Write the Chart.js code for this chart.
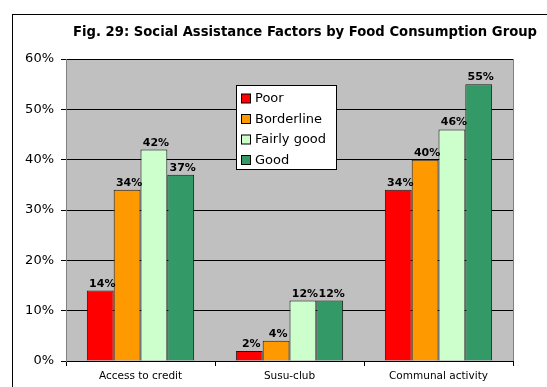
<!DOCTYPE html>
<html>
<head>
<meta charset="utf-8">
<script src="https://cdn.jsdelivr.net/npm/chart.js@4/dist/chart.umd.min.js"></script>
<style>
  html, body { margin: 0; padding: 0; background: #fff; overflow: hidden; }
  #wrap { position: relative; width: 547px; height: 387px; }
</style>
</head>
<body>
<div id="wrap"><canvas id="chart" width="547" height="387"></canvas></div>
<script>
const title = 'Fig. 29: Social Assistance Factors by Food Consumption Group';
const categories = ['Access to credit', 'Susu-club', 'Communal activity'];
const groups = ['Poor', 'Borderline', 'Fairly good', 'Good'];
const poor = [14, 2, 34];
const borderline = [34, 4, 40];
const fairlyGood = [42, 12, 46];
const good = [37, 12, 55];
const yTicks = [0, 10, 20, 30, 40, 50, 60];
const colors = ['#ff0000', '#ff9900', '#ccffcc', '#339966'];

const font = '"DejaVu Sans", Verdana, sans-serif';

// gray plot area, outer frame and the title
const frame = {
  id: 'frame',
  beforeDraw(chart) {
    const { ctx, chartArea: a } = chart;
    ctx.save();
    ctx.fillStyle = '#fff';
    ctx.fillRect(0, 0, chart.width, chart.height);
    ctx.fillStyle = '#c0c0c0';
    ctx.fillRect(a.left, a.top, a.right - a.left, a.bottom - a.top);
    ctx.restore();
  },
  afterDraw(chart) {
    const { ctx, chartArea: a } = chart;
    ctx.save();
    ctx.strokeStyle = '#808080';
    ctx.lineWidth = 1;
    ctx.beginPath();
    ctx.moveTo(a.right + 0.5, a.top);
    ctx.lineTo(a.right + 0.5, a.bottom);
    ctx.stroke();
    ctx.strokeStyle = '#000';
    ctx.strokeRect(12.5, 14.5, 700, 500);
    ctx.fillStyle = '#000';
    ctx.font = 'bold 13.2px ' + font;
    ctx.textAlign = 'center';
    ctx.textBaseline = 'middle';
    ctx.fillText(title, 305, 33);
    ctx.restore();
  }
};

// value labels over each bar
const barLabels = {
  id: 'barLabels',
  afterDatasetsDraw(chart) {
    const { ctx } = chart;
    ctx.save();
    ctx.font = 'bold 11px ' + font;
    ctx.fillStyle = '#000';
    ctx.textAlign = 'center';
    ctx.textBaseline = 'alphabetic';
    chart.data.datasets.forEach((ds, i) => {
      chart.getDatasetMeta(i).data.forEach((bar, j) => {
        ctx.fillText(ds.data[j] + '%', bar.x + 2, bar.y - 4);
      });
    });
    ctx.restore();
  }
};

// boxed legend sitting inside the plot
const boxLegend = {
  id: 'boxLegend',
  afterDraw(chart) {
    const { ctx, chartArea: a } = chart;
    const x = a.left + 170, y = a.top + 26, w = 100, h = 84;
    ctx.save();
    ctx.fillStyle = '#fff';
    ctx.fillRect(x, y, w, h);
    ctx.strokeStyle = '#000';
    ctx.lineWidth = 1;
    ctx.strokeRect(x + 0.5, y + 0.5, w, h);
    ctx.font = '13px ' + font;
    ctx.textBaseline = 'middle';
    chart.data.datasets.forEach((ds, i) => {
      const cy = y + 13.5 + i * 20.5;
      ctx.fillStyle = ds.backgroundColor;
      ctx.fillRect(x + 5.5, cy - 4.5, 9, 9);
      ctx.strokeRect(x + 5.5, cy - 4.5, 9, 9);
      ctx.fillStyle = '#000';
      ctx.fillText(ds.label, x + 19, cy + 0.5);
    });
    ctx.restore();
  }
};

const seriesValues = [poor, borderline, fairlyGood, good];

new Chart(document.getElementById('chart'), {
  type: 'bar',
  data: {
    labels: categories,
    datasets: groups.map((g, i) => ({
      label: g,
      data: seriesValues[i],
      backgroundColor: colors[i],
      borderColor: '#1a1a1a',
      borderWidth: 1,
      borderSkipped: 'bottom',
      categoryPercentage: 0.72,
      barPercentage: 1
    }))
  },
  options: {
    responsive: false,
    animation: false,
    devicePixelRatio: 1,
    layout: { padding: { top: 59, right: 34, bottom: 0, left: 0 } },
    plugins: {
      legend: { display: false },
      title: { display: false },
      tooltip: { enabled: false }
    },
    scales: {
      x: {
        afterFit(s) { s.height = 26; },
        grid: {
          offset: true,
          drawOnChartArea: false,
          drawTicks: true,
          tickLength: 5,
          tickColor: '#000'
        },
        border: { color: '#000' },
        ticks: {
          color: '#000',
          padding: 4,
          font: { family: font, size: 10.5 }
        }
      },
      y: {
        min: yTicks[0],
        max: yTicks[yTicks.length - 1],
        afterFit(s) { s.width = 66; },
        afterBuildTicks(s) { s.ticks = yTicks.map(v => ({ value: v })); },
        grid: {
          color: '#000',
          drawTicks: true,
          tickLength: 5,
          tickColor: '#000'
        },
        border: { color: '#808080' },
        ticks: {
          color: '#000',
          padding: 7,
          font: { family: font, size: 13 },
          callback: v => v + '%'
        }
      }
    }
  },
  plugins: [frame, barLabels, boxLegend]
});
</script>
</body>
</html>
